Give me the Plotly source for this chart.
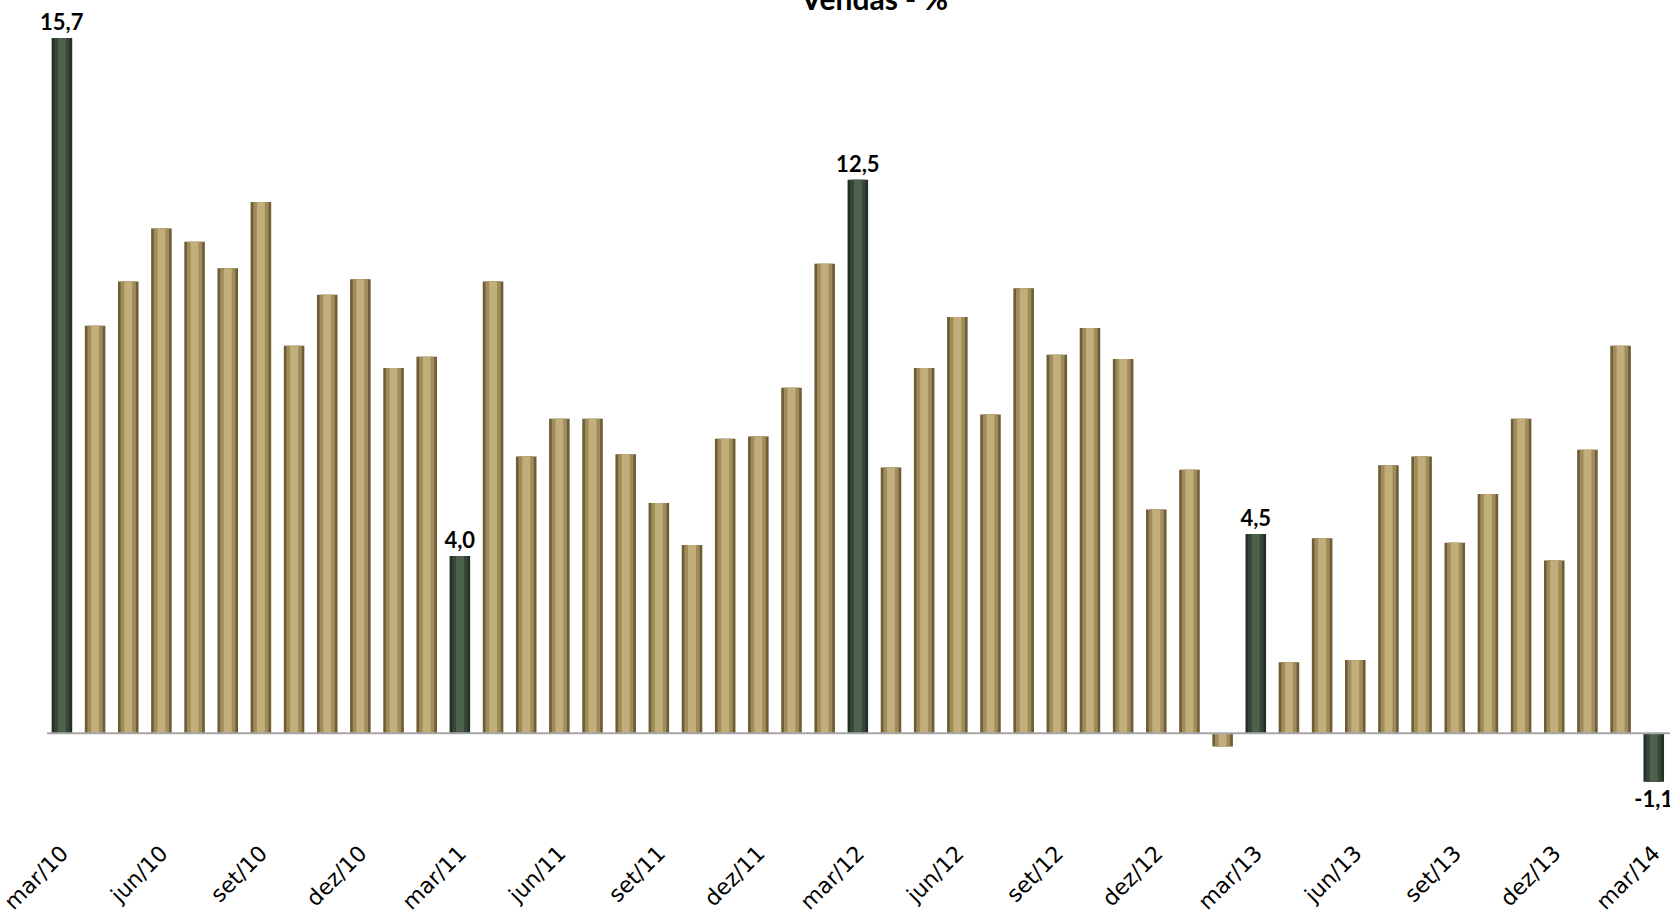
import plotly.graph_objects as go

months = ["jan", "fev", "mar", "abr", "mai", "jun", "jul", "ago", "set", "out", "nov", "dez"]
# monthly categories mar/10 .. mar/14
categories = [f"{months[(2 + k) % 12]}/{10 + (2 + k) // 12}" for k in range(49)]

values = [15.7, 9.2, 10.2, 11.4, 11.1, 10.5, 12.0, 8.75, 9.9, 10.25, 8.25, 8.5,
          4.0, 10.2, 6.25, 7.1, 7.1, 6.3, 5.2, 4.25, 6.65, 6.7, 7.8, 10.6,
          12.5, 6.0, 8.25, 9.4, 7.2, 10.05, 8.55, 9.15, 8.45, 5.05, 5.95, -0.3,
          4.5, 1.6, 4.4, 1.65, 6.05, 6.25, 4.3, 5.4, 7.1, 3.9, 6.4, 8.75,
          -1.1]

highlight = [0, 12, 24, 36, 48]
tick_labels = [categories[i] for i in range(0, 49, 3)]

tan_outer = "#6E5E38"
tan_mid = "#A08B5A"
tan_inner = "#C2AE7A"
green_outer = "#243023"
green_mid = "#35463A"
green_inner = "#4D614B"

outer_colors = [green_outer if i in highlight else tan_outer for i in range(49)]
mid_colors = [green_mid if i in highlight else tan_mid for i in range(49)]
inner_colors = [green_inner if i in highlight else tan_inner for i in range(49)]
labels = [f"{v:.1f}".replace(".", ",") if i in highlight else "" for i, v in enumerate(values)]

fig = go.Figure()
fig.add_trace(go.Bar(
    x=categories, y=values, width=0.62,
    marker=dict(color=outer_colors, line=dict(width=0)),
    text=labels, textposition="outside", cliponaxis=False, constraintext="none",
    textfont=dict(family="Lato", size=22, color="#000000", weight="bold"),
    hoverinfo="x+y",
))
fig.add_trace(go.Bar(
    x=categories, y=values, width=0.46,
    marker=dict(color=mid_colors, line=dict(width=0)),
    hoverinfo="skip",
))
fig.add_trace(go.Bar(
    x=categories, y=values, width=0.24,
    marker=dict(color=inner_colors, line=dict(width=0)),
    hoverinfo="skip",
))

fig.add_shape(type="line", xref="x", yref="y", x0=-0.45, x1=48.6, y0=0, y1=0,
              line=dict(color="#A6A6A6", width=2))

fig.add_annotation(text="<b>Vendas - %</b>", xref="paper", yref="paper",
                   x=873 / 1670, y=1 - 18 / 835, xanchor="center", yanchor="bottom",
                   showarrow=False, font=dict(family="Lato", size=30, color="#000000"))

fig.update_layout(
    width=1670, height=914,
    margin=dict(l=0, r=0, t=0, b=79),
    barmode="overlay",
    showlegend=False,
    plot_bgcolor="white", paper_bgcolor="white",
    xaxis=dict(range=[-1.807, 48.49], tickmode="array",
               tickvals=tick_labels, ticktext=tick_labels,
               tickangle=-45, showgrid=False, zeroline=False, showline=False,
               ticks="", tickfont=dict(family="DejaVu Sans", size=22, color="#000000")),
    yaxis=dict(range=[-2.3, 16.56], visible=False, showgrid=False, zeroline=False),
)

fig.write_html("out.html")
